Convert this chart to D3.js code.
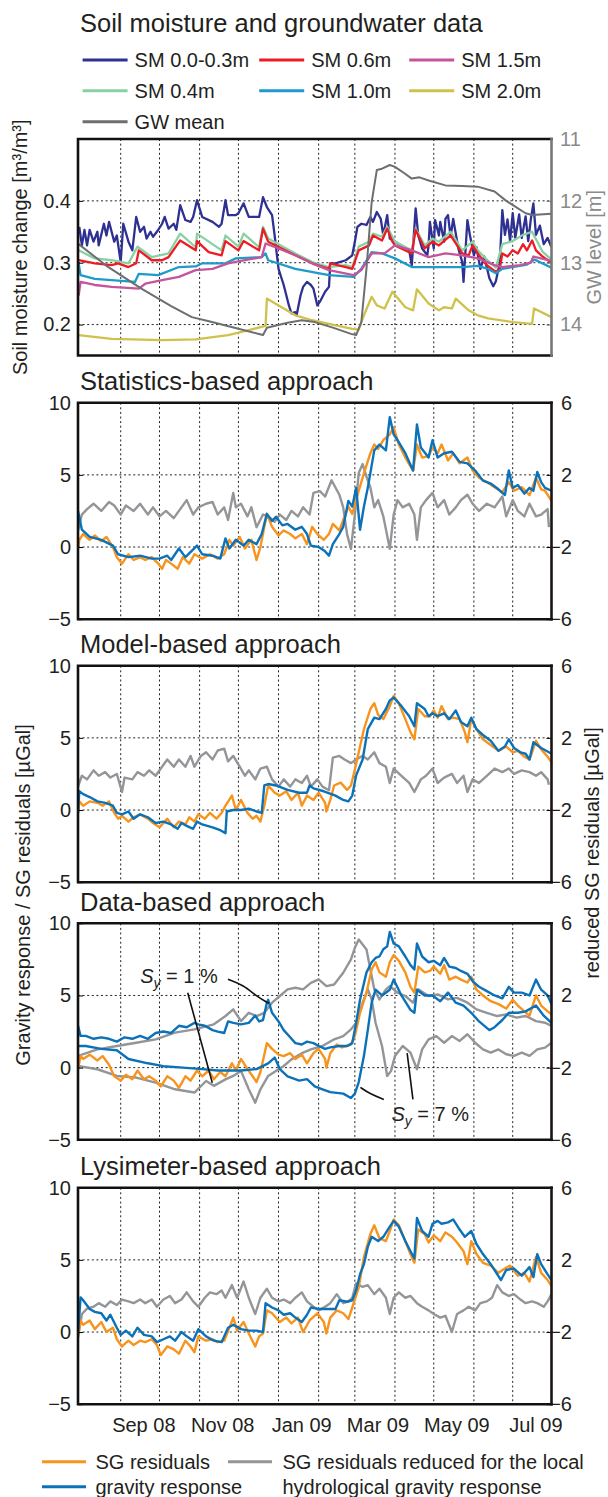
<!DOCTYPE html>
<html>
<head>
<meta charset="utf-8">
<script src="https://cdn.jsdelivr.net/npm/d3@7"></script>
<style>
  body { margin: 0; background: #fff; }
  svg text { font-family: "Liberation Sans", Arial, sans-serif; fill: #231f20; }
</style>
</head>
<body>
<svg id="chart" width="608" height="1497"></svg>
<script>
// ---- data: [day since 1 Aug 2008, value] ----
const sm03 = [[-1,.358],[1,.328],[3,.353],[5,.328],[7,.353],[10,.334],[13,.35],[14,.328],[18,.363],[20,.344],[22,.366],[26,.334],[28,.344],[31,.301],[33,.363],[37,.334],[40,.32],[43,.374],[46,.35],[49,.358],[51,.339],[54,.35],[56,.342],[60,.353],[63,.363],[65,.374],[68,.355],[72,.363],[74,.353],[77,.393],[81,.369],[85,.366],[87,.374],[90,.401],[94,.374],[102,.366],[107,.358],[109,.363],[112,.401],[114,.377],[120,.377],[122,.38],[126,.396],[130,.374],[138,.374],[141,.406],[144,.39],[148,.377],[150,.344],[153,.29],[157,.264],[161,.231],[163,.218],[166,.22],[167,.215],[170,.247],[172,.261],[175,.269],[178,.264],[180,.258],[183,.231],[185,.237],[189,.253],[192,.261],[193,.299],[197,.299],[205,.304],[210,.312],[212,.334],[214,.358],[217,.363],[221,.361],[224,.374],[226,.366],[229,.382],[232,.371],[234,.344],[237,.377],[239,.339],[243,.334],[248,.328],[254,.32],[256,.296],[259,.388],[261,.344],[264,.323],[268,.312],[269,.328],[270,.366],[273,.323],[274,.369],[277,.344],[278,.366],[281,.334],[282,.371],[284,.377],[286,.342],[288,.371],[292,.323],[295,.301],[296,.269],[299,.369],[301,.344],[304,.312],[306,.325],[309,.29],[312,.31],[316,.275],[319,.262],[321,.27],[324,.3],[326,.385],[328,.345],[330,.37],[332,.335],[334,.38],[336,.34],[339,.378],[341,.34],[344,.375],[346,.335],[348,.37],[350,.396],[352,.345],[355,.36],[358,.33],[361,.34],[364,.325]];
const sm04 = [[-1.5,.32],[11,.307],[24,.304],[37,.299],[44,.326],[55,.309],[68,.315],[77,.347],[89,.325],[90,.347],[109,.32],[112,.344],[122,.326],[126,.347],[138,.325],[141,.358],[145,.339],[166,.315],[179,.301],[192,.293],[205,.296],[210,.293],[215,.326],[223,.334],[226,.347],[233,.342],[237,.358],[243,.334],[256,.32],[259,.355],[266,.328],[272,.339],[277,.334],[286,.35],[295,.32],[303,.334],[307,.32],[314,.305],[321,.292],[326,.33],[334,.335],[342,.345],[349,.35],[357,.318],[364,.305]];
const sm06 = [[-1.5,.304],[11,.299],[24,.296],[29,.299],[37,.293],[43,.299],[45,.32],[55,.304],[63,.304],[68,.309],[77,.336],[89,.32],[90,.335],[99,.317],[109,.312],[112,.335],[122,.32],[126,.335],[138,.32],[141,.355],[145,.334],[166,.312],[179,.299],[192,.29],[193,.299],[205,.293],[210,.29],[215,.32],[223,.328],[226,.344],[233,.336],[237,.355],[241,.334],[243,.328],[256,.315],[259,.353],[266,.323],[272,.334],[277,.328],[286,.344],[295,.315],[300,.312],[303,.328],[307,.315],[314,.296],[321,.285],[324,.29],[326,.315],[330,.31],[334,.32],[338,.315],[342,.33],[345,.32],[349,.336],[352,.32],[357,.31],[364,.3]];
const sm10 = [[-1.5,.299],[0,.28],[11,.274],[24,.272],[42,.269],[45,.282],[60,.28],[76,.293],[89,.294],[94,.299],[112,.299],[120,.307],[140,.309],[143,.315],[145,.304],[166,.29],[192,.28],[211,.277],[217,.29],[225,.317],[233,.315],[243,.307],[256,.293],[269,.293],[295,.293],[307,.295],[315,.29],[321,.283],[326,.29],[345,.297],[351,.305],[364,.292]];
const sm15 = [[-1.5,.247],[0,.269],[11,.264],[24,.261],[45,.258],[50,.266],[63,.272],[76,.277],[89,.288],[102,.29],[114,.299],[127,.304],[140,.309],[143,.331],[153,.323],[166,.312],[179,.299],[192,.288],[211,.28],[217,.288],[225,.315],[235,.315],[243,.328],[256,.32],[269,.309],[282,.315],[295,.312],[307,.307],[320,.296],[326,.293],[340,.296],[348,.3],[350,.31],[364,.303]];
const sm20 = [[-1.5,.183],[24,.177],[63,.175],[89,.176],[114,.183],[130,.191],[143,.198],[144,.242],[153,.231],[166,.215],[179,.207],[192,.201],[210,.193],[215,.192],[219,.215],[225,.245],[229,.231],[235,.226],[241,.253],[251,.228],[257,.223],[260,.257],[269,.234],[277,.223],[281,.228],[287,.226],[290,.242],[300,.223],[307,.215],[315,.21],[334,.204],[349,.201],[350.5,.226],[364,.212]];
const gwMean = [[-1.5,12.7],[20,13.05],[47,13.42],[70,13.7],[86,13.88],[100,13.95],[119,14.05],[141,14.17],[144,14.05],[160,13.97],[171,13.93],[181,13.96],[195,14.05],[209,14.15],[213,14.17],[217,13.96],[221,13.09],[225,12.02],[229,11.5],[233,11.48],[239,11.42],[243,11.45],[250,11.55],[256,11.64],[262,11.62],[269,11.67],[282,11.75],[295,11.76],[307,11.77],[320,11.85],[329,12.0],[344,12.2],[349,12.23],[364,12.21]];

const statOrange = [[-2,-0.1],[-1,0.5],[2,0.9],[7,0.5],[11,0.8],[16,0.4],[20,0.7],[25,0],[28,-0.7],[32,-1.15],[37,-0.5],[41,-0.9],[46,-0.7],[50,-0.9],[55,-0.7],[60,-1.15],[63,-1.5],[66,-0.9],[70,-1.15],[75,-1.5],[79,-0.7],[84,-1.15],[88,-0.5],[94,-0.8],[100,-0.5],[106,-0.8],[111,-0.5],[115,0.5],[118,0.1],[123,0.7],[127,-0.1],[132,0.5],[136,-0.9],[139,0],[144,2.3],[148,1.4],[153,0.8],[157,1.15],[162,0.9],[166,0.6],[171,0.9],[175,0.2],[179,1.4],[183,0.9],[188,0.5],[192,0.9],[195,1.6],[200,1.15],[204,2.1],[207,2.8],[210,2.3],[215,3.9],[219,5.1],[224,6.5],[227,7.1],[230,6.8],[234,7.4],[239,7.8],[242,8.3],[246,7.1],[251,6.2],[257,5.3],[260,7.1],[264,6.2],[269,6.3],[272,6.9],[276,6.5],[279,7.1],[284,6.0],[288,6.5],[293,5.8],[299,6.2],[303,5.3],[308,4.8],[314,4.5],[320,4.15],[326,3.8],[331,4.5],[335,3.9],[341,4.15],[347,3.6],[352,4.8],[356,4.0],[359,3.9],[364,3.2]];
const statBlue = [[-2,2.5],[1,1.2],[7,0.7],[16,0.5],[25,0.1],[29,-0.5],[37,-0.7],[46,-0.6],[55,-0.8],[61,-0.8],[67,-0.6],[70,-0.9],[76,-0.1],[81,-0.7],[90,0.1],[94,-0.5],[102,-0.6],[108,-0.8],[112,0.6],[115,-0.1],[120,0.5],[126,0.1],[130,0.5],[136,0.2],[140,0.9],[144,2.3],[148,1.8],[151,2.1],[156,1.5],[160,1.6],[166,1.2],[171,1.4],[175,0.9],[178,0.1],[184,0],[189,-0.3],[192,-0.6],[195,0.2],[200,0.9],[203,1.4],[207,3.2],[210,2.8],[213,4.1],[216,1.2],[219,2.8],[222,4.1],[227,6.7],[231,7.1],[236,6.7],[239,9.0],[242,7.8],[245,7.4],[251,6.5],[257,5.3],[260,8.5],[263,6.9],[269,6.2],[272,7.4],[276,6.2],[281,6.5],[287,6.6],[293,5.9],[299,5.8],[305,5.3],[311,4.6],[317,4.4],[323,4.0],[328,3.6],[331,5.3],[334,4.1],[338,4.3],[343,3.7],[347,4.1],[350,3.9],[353,5.2],[356,4.5],[359,4.1],[364,3.9]];
const statGray = [[-2,-1.1],[1,-0.2],[5,0.1],[10,0.4],[16,0],[22,0.5],[26,0.3],[31,-0.2],[35,0.3],[41,0],[46,0.4],[52,-0.2],[56,0.2],[61,-0.3],[66,0],[72,-0.4],[78,0.2],[82,0.6],[87,-0.2],[91,0.2],[97,0.4],[102,0.5],[106,-0.2],[111,0.2],[114,-0.5],[118,1.0],[120,0.2],[124,0.4],[129,-0.3],[132,0.2],[136,-0.9],[141,-0.2],[145,-0.3],[150,-0.6],[154,-0.2],[159,-0.5],[163,0],[168,-0.3],[172,0.2],[177,-0.2],[180,1.0],[185,1.1],[189,0.8],[194,1.7],[197,1.3],[200,0.9],[203,0.2],[206,-1.3],[209,-2.1],[212,-0.2],[215,2.1],[218,2.6],[221,1.9],[224,1.3],[227,0.2],[230,0.6],[234,-0.3],[239,-2.1],[242,-0.2],[245,0.6],[249,0.2],[254,0.4],[258,-0.2],[260,-1.6],[263,0.2],[267,0.6],[272,1.0],[276,0.2],[281,0.6],[285,-0.2],[290,0.2],[294,0.6],[299,0.9],[303,0.4],[308,0],[314,0.4],[320,0.2],[326,0.8],[329,-0.3],[334,0.6],[338,0],[343,-0.3],[347,0.4],[352,-0.3],[356,-0.2],[361,0.1],[362,-0.9]];

const modelOrange = [[-2,-0.2],[-1,0.6],[2,0.3],[7,0.6],[13,0.5],[17,0.3],[22,0.6],[26,-0.2],[29,-0.6],[32,-0.4],[37,-0.8],[41,-0.5],[46,-0.3],[52,-0.6],[56,-0.9],[61,-1.2],[64,-0.9],[67,-0.6],[72,-1.2],[76,-0.8],[81,-1.0],[84,-0.5],[88,-0.8],[91,-0.3],[96,-0.6],[100,-0.2],[105,-0.6],[109,-0.2],[112,0.3],[117,1.0],[120,0],[124,0.7],[129,-0.2],[133,-0.6],[136,-0.4],[139,-0.8],[142,0.3],[145,1.7],[150,1.2],[154,1.0],[159,1.3],[163,0.7],[168,1.2],[171,0.3],[175,1.0],[180,0.7],[184,1.2],[189,0.5],[190,-0.1],[193,0.7],[196,1.7],[201,1.9],[206,1.4],[209,1.7],[212,2.8],[216,4.4],[219,5.6],[224,7.0],[227,7.4],[230,6.6],[234,6.3],[239,7.2],[242,7.9],[246,7.4],[251,6.3],[255,5.4],[258,4.9],[261,7.0],[266,6.5],[270,6.5],[273,6.9],[276,6.4],[279,7.2],[284,6.3],[288,6.4],[293,6.3],[297,5.4],[299,4.7],[302,6.3],[306,5.6],[311,4.9],[317,4.5],[323,4.1],[329,4.4],[334,4.0],[338,4.1],[343,3.7],[347,3.5],[352,4.8],[356,4.2],[361,3.7],[364,3.3]];
const modelBlue = [[-2,-0.2],[-1,1.3],[2,1.1],[7,0.9],[13,0.6],[19,0.5],[25,0.3],[28,-0.2],[32,-0.3],[37,-0.1],[41,-0.6],[46,-0.3],[52,-0.5],[58,-0.9],[64,-0.8],[70,-1.0],[75,-1.3],[78,-0.9],[82,-1.1],[87,-1.3],[90,-0.8],[94,-1.0],[102,-1.2],[108,-1.4],[112,-1.6],[113,-0.1],[118,0],[124,0],[130,0.1],[136,-0.1],[140,-0.2],[142,1.7],[145,1.8],[151,1.7],[160,1.4],[169,1.2],[175,1.2],[177,1.7],[180,1.5],[188,1.3],[197,1.0],[203,0.7],[207,0.6],[210,1.0],[213,2.4],[218,3.5],[222,5.6],[227,6.4],[231,6.3],[236,7.0],[239,7.6],[242,7.8],[248,7.2],[254,6.5],[258,5.8],[260,7.4],[266,7.0],[269,6.5],[272,6.7],[276,6.5],[281,6.7],[285,6.3],[290,6.9],[294,6.1],[299,5.8],[302,6.4],[306,5.6],[311,5.2],[317,4.8],[323,4.1],[328,4.4],[331,4.9],[335,4.3],[340,4.0],[344,3.9],[347,3.5],[350,4.7],[356,4.3],[362,4.0],[364,3.9]];
const modelGray = [[-2,-0.7],[1,-0.1],[5,-0.3],[10,0.2],[14,-0.1],[19,0.1],[23,-0.2],[28,0],[32,-1.0],[34,-0.2],[40,-0.3],[44,0.1],[49,-0.1],[53,0.2],[58,-0.1],[62,0.3],[67,0.8],[72,0.4],[76,0.8],[81,0.4],[85,1.0],[88,0.4],[93,1.0],[97,1.2],[102,0.8],[106,1.3],[111,1.4],[114,0.7],[118,1.0],[123,0.4],[127,-0.1],[130,0.2],[135,-0.3],[139,0.3],[144,0.4],[148,-0.3],[153,-0.7],[157,-0.3],[162,-0.7],[166,-0.3],[171,-0.5],[175,-0.1],[178,-0.7],[183,-0.3],[187,-0.7],[192,-0.9],[195,0.9],[200,1.0],[204,0.8],[209,0.6],[213,0.8],[218,1.0],[222,0.8],[227,1.2],[231,0.6],[236,0.4],[239,-0.5],[242,0.3],[248,-0.1],[254,-0.5],[258,-1.0],[263,-0.3],[267,-0.1],[272,0.3],[276,-0.5],[281,-0.2],[287,0],[291,-0.5],[296,-0.1],[299,-1.0],[303,-0.3],[308,-0.5],[314,-0.1],[320,0.3],[326,0.1],[331,0.3],[335,0],[341,0.2],[347,0.1],[352,-0.1],[356,0.1],[361,-0.3],[362,-0.6]];

const dataOrange = [[-2,-0.1],[0,0.8],[2,0.6],[7,0.9],[13,0.5],[17,0.8],[22,0.2],[26,-0.6],[31,-0.9],[35,-0.5],[40,-0.8],[44,-0.2],[49,-0.8],[53,-0.6],[58,-0.9],[62,-1.3],[67,-0.6],[72,-0.9],[76,-1.4],[81,-0.6],[85,-0.9],[90,-0.2],[94,-0.6],[99,-0.2],[103,-0.8],[108,-0.3],[112,-0.6],[117,0.3],[120,-0.2],[124,0.6],[129,-0.1],[133,-0.6],[136,-1.0],[139,-0.3],[144,1.7],[148,1.3],[153,0.9],[157,0.8],[162,1.0],[166,0.6],[171,0.9],[175,0.3],[180,1.0],[184,1.3],[189,0.6],[190,0],[193,1.0],[198,1.6],[202,1.4],[209,1.6],[212,2.2],[216,3.8],[221,5.2],[225,6.8],[228,7.3],[231,6.6],[236,6.3],[239,7.3],[242,7.8],[246,7.4],[251,6.6],[255,5.6],[258,5.2],[261,7.0],[266,6.6],[270,6.7],[273,7.0],[278,6.5],[281,7.1],[285,6.1],[290,6.3],[294,6.1],[299,5.9],[302,6.3],[306,5.4],[311,5.0],[317,4.6],[323,4.4],[329,4.1],[334,4.7],[338,4.3],[343,3.9],[347,3.6],[352,5.0],[356,4.3],[361,3.9],[364,3.7]];
const dataBlue1 = [[-2,2.9],[0,2.2],[4,2.2],[10,2.0],[16,2.1],[22,2.0],[28,1.8],[34,2.1],[40,2.0],[46,2.2],[52,2.0],[58,2.4],[64,2.5],[70,2.4],[76,2.9],[82,2.8],[88,3.1],[91,3.0],[96,2.9],[102,2.6],[106,2.5],[111,2.4],[114,3.2],[118,3.1],[124,3.0],[130,3.1],[135,3.6],[138,3.2],[141,3.3],[144,4.5],[145,4.7],[148,3.8],[153,3.2],[157,2.6],[162,2.1],[166,1.7],[171,1.6],[175,1.8],[180,1.7],[184,1.5],[189,1.3],[193,1.4],[200,1.5],[206,1.5],[210,1.7],[213,3.1],[216,4.7],[221,6.6],[225,7.3],[228,7.6],[231,7.7],[234,8.2],[237,8.4],[239,9.4],[242,8.6],[246,8.4],[251,7.7],[255,7.1],[258,6.8],[260,8.6],[264,7.7],[269,7.3],[273,7.4],[278,7.1],[281,7.6],[285,7.0],[290,6.9],[294,6.7],[299,6.5],[303,6.0],[308,5.6],[314,5.3],[320,5.0],[326,4.8],[331,5.6],[335,5.2],[341,5.2],[347,5.0],[352,6.1],[356,5.4],[361,5.0],[364,4.4]];
const dataBlue7 = [[-2,1.5],[4,1.5],[16,1.3],[28,1.2],[37,0.6],[52,0.3],[64,0.1],[79,0],[94,-0.1],[106,-0.2],[124,-0.2],[136,-0.1],[145,0.3],[150,0.7],[154,-0.1],[160,-0.6],[169,-0.9],[175,-0.8],[181,-1.3],[187,-1.5],[193,-1.7],[203,-1.8],[209,-2.1],[212,-1.8],[215,-1.0],[219,0.8],[222,2.6],[225,4.5],[228,5.4],[233,5.0],[239,5.4],[242,6.1],[248,5.0],[255,4.0],[258,3.8],[260,5.4],[266,5.0],[272,5.0],[278,4.6],[284,5.2],[290,4.5],[296,4.3],[302,3.8],[308,3.2],[316,2.6],[320,2.8],[326,3.3],[331,3.8],[338,3.8],[344,3.9],[352,4.3],[358,3.6],[364,3.1]];
const dataGray7 = [[-2,-1.35],[13,-0.99],[28,-0.8],[43,-0.62],[58,-0.43],[73,-0.06],[88,0.12],[103,0.4],[112,0.86],[118,1.23],[124,0.58],[130,1.04],[136,0.86],[142,1.04],[148,1.6],[154,1.97],[160,2.34],[166,2.43],[172,2.34],[178,2.7],[184,2.89],[190,2.52],[196,2.61],[203,3.26],[209,4.0],[212,4.64],[215,5.1],[218,4.83],[221,4.55],[224,3.44],[227,2.34],[231,1.78],[236,2.34],[239,2.52],[245,2.15],[251,1.97],[257,1.6],[261,2.34],[269,1.97],[276,2.06],[284,1.78],[291,1.87],[299,1.6],[306,1.23],[314,1.04],[322,0.86],[329,0.95],[337,0.77],[344,0.86],[352,0.58],[359,0.49],[364,0.31]];
const dataGray1 = [[-2,-1.91],[13,-2.09],[28,-2.46],[43,-2.55],[58,-2.83],[73,-3.2],[88,-3.38],[97,-2.74],[103,-3.01],[112,-2.65],[118,-2.46],[124,-2.18],[130,-3.2],[135,-3.94],[139,-3.2],[145,-2.46],[151,-2.18],[157,-1.91],[163,-1.54],[172,-1.17],[178,-0.99],[187,-0.8],[196,-0.43],[203,-0.25],[209,0.12],[213,0.49],[218,1.6],[222,2.34],[225,1.78],[228,0.49],[233,-0.8],[237,-2.46],[240,-2.18],[243,-1.35],[249,-0.8],[255,-1.17],[260,-2.09],[264,-0.99],[269,-0.43],[275,-0.25],[281,-0.62],[287,-0.25],[293,-0.52],[299,-0.15],[305,-0.62],[311,-0.99],[317,-1.17],[323,-0.99],[329,-1.26],[335,-1.35],[341,-1.17],[347,-1.35],[353,-0.99],[359,-0.89],[364,-0.62]];

const lysOrange = [[-2,-0.3],[0,0.8],[2,0.5],[7,0.8],[11,0.2],[16,0.7],[20,0],[25,0.3],[28,-0.5],[32,-1.0],[37,-0.6],[41,-0.9],[46,-0.6],[50,-0.7],[55,-0.5],[59,-0.9],[62,-1.6],[67,-1.0],[72,-1.2],[76,-1.5],[81,-0.6],[85,-1.0],[88,-1.4],[91,-0.3],[97,-0.6],[102,-0.5],[106,-0.7],[111,-0.6],[115,0.3],[118,1.0],[121,0.1],[126,0.7],[130,-0.1],[135,-1.0],[138,-0.3],[141,-0.1],[144,1.5],[148,1.3],[154,0.7],[159,1.0],[163,0.6],[168,1.0],[172,0],[177,0.8],[183,1.3],[188,0.7],[190,-0.1],[193,1.0],[198,1.5],[203,1.3],[207,0.9],[210,1.7],[215,3.1],[219,5.2],[224,6.8],[227,7.4],[231,6.5],[236,6.3],[239,7.0],[242,7.8],[246,7.4],[251,6.3],[255,5.4],[258,4.8],[261,7.1],[266,6.8],[269,6.2],[273,6.7],[278,6.3],[282,6.9],[287,6.6],[291,6.2],[296,5.6],[299,4.7],[302,6.3],[306,5.4],[311,4.8],[317,4.6],[323,4.1],[328,4.4],[332,4.6],[338,3.9],[343,4.1],[347,3.5],[352,5.2],[356,4.1],[361,3.6],[364,3.2]];
const lysBlue = [[-2,-0.1],[0,2.4],[2,2.2],[7,1.6],[11,1.4],[16,1.3],[20,0.8],[23,1.2],[28,0.3],[31,-0.2],[35,0.1],[40,-0.3],[44,0.3],[49,-0.2],[55,-0.3],[59,-0.7],[64,-0.5],[69,-0.3],[73,-0.6],[78,0],[82,-0.3],[87,-0.6],[91,0.2],[97,-0.3],[103,-0.6],[109,-0.7],[114,0.3],[118,0.5],[124,0.2],[130,0.1],[136,0.1],[141,0],[143,2.0],[148,1.7],[153,1.5],[157,1.2],[162,1.3],[166,1.0],[171,0.7],[175,1.2],[178,1.7],[184,1.6],[190,1.6],[197,1.6],[200,2.2],[206,2.1],[210,2.2],[213,2.9],[216,4.0],[219,4.7],[222,5.9],[225,6.6],[230,6.3],[234,6.6],[239,7.3],[242,7.7],[246,7.3],[251,6.3],[255,5.6],[258,5.1],[260,7.9],[264,7.0],[269,6.6],[272,7.5],[276,7.7],[279,7.5],[284,7.6],[288,7.8],[293,7.1],[297,6.6],[302,7.0],[306,6.1],[311,5.4],[317,4.7],[325,3.6],[329,4.3],[335,4.4],[341,3.9],[347,4.5],[350,3.8],[353,5.4],[356,4.7],[361,4.0],[364,3.6]];
const lysGray = [[-2,-2.3],[1,-1.0],[5,-0.7],[10,-0.6],[14,-0.4],[19,-0.6],[23,-0.3],[28,-0.5],[32,-0.2],[37,-0.3],[41,-0.4],[46,-0.2],[50,-0.4],[55,-0.2],[59,-0.6],[64,-0.2],[69,0],[73,-0.4],[78,-0.2],[82,0.2],[87,-0.3],[91,-0.6],[96,-0.1],[100,0.2],[105,0.1],[109,0.3],[112,-0.1],[117,0.6],[121,-0.1],[126,0.8],[130,-0.1],[135,-1.0],[139,-0.1],[144,0.4],[148,-0.1],[153,-0.3],[157,-0.2],[162,-0.4],[166,-0.1],[171,0.2],[175,-0.3],[180,-0.6],[184,-0.8],[189,-0.6],[193,-0.4],[198,0.1],[203,-0.4],[207,-0.3],[210,-0.1],[213,0.7],[218,0.5],[222,0.6],[227,0.1],[231,0.4],[236,-0.1],[239,-1.0],[242,-0.1],[246,0.2],[251,-0.1],[255,0],[260,-0.4],[264,-0.6],[269,-0.8],[273,-1.0],[278,-1.2],[282,-1.1],[287,-2.0],[291,-1.0],[296,-0.8],[300,-0.6],[305,-0.8],[309,-0.4],[314,-0.3],[318,-0.1],[322,0.6],[326,0.2],[331,0],[335,0.1],[340,-0.2],[344,-0.4],[349,-0.3],[353,-0.4],[358,-0.6],[361,-0.3],[364,0.1]];

// axis ticks and labels
const xTickLabels = ["Sep 08", "Nov 08", "Jan 09", "Mar 09", "May 09", "Jul 09"];
const xTickMonths = [[2008, 8], [2008, 10], [2009, 0], [2009, 2], [2009, 4], [2009, 6]];
const smTicks = [0.2, 0.3, 0.4];
const gwTicks = [11, 12, 13, 14];
const gLeftTicks = [-5, 0, 5, 10];
const gRightTicks = [-6, -2, 2, 6];
const panelTitles = ["Statistics-based approach", "Model-based approach", "Data-based approach", "Lysimeter-based approach"];

// ---- layout ----
const svg = d3.select("#chart");
const left = 78, right = 551.5, ph = 216.5;
const tops = [139, 402.7, 665.7, 923.3, 1187.7];
const start = Date.UTC(2008, 7, 1);
const toDate = d => new Date(start + d * 864e5);

const x = d3.scaleUtc()
  .domain([new Date(Date.UTC(2008, 6, 30)), new Date(Date.UTC(2009, 6, 31))])
  .range([left, right]);
const gridMonths = d3.utcMonth.range(new Date(Date.UTC(2008, 8, 1)), new Date(Date.UTC(2009, 6, 2)));

const col = {
  sm03: "#2e3192", sm04: "#88d1a3", sm06: "#ed1c24", sm10: "#1f9bcb",
  sm15: "#c4559a", sm20: "#cfc24c", gw: "#6d6e71",
  orange: "#f7941d", blue: "#0b72b9", gray: "#939598"
};

// Draw grid and clip for one panel
function makePanel(i, yL, hTicks) {
  const top = tops[i], bot = top + ph;
  const g = svg.append("g");
  svg.append("clipPath").attr("id", "clip" + i)
    .append("rect").attr("x", left).attr("y", top).attr("width", right - left).attr("height", ph);

  g.selectAll(".vg").data(gridMonths).enter().append("line")
    .attr("x1", d => x(d)).attr("x2", d => x(d))
    .attr("y1", top).attr("y2", bot)
    .attr("stroke", "#222").attr("stroke-width", 1).attr("stroke-dasharray", "2,2.6");
  g.selectAll(".hg").data(hTicks).enter().append("line")
    .attr("x1", left).attr("x2", right)
    .attr("y1", d => yL(d)).attr("y2", d => yL(d))
    .attr("stroke", "#222").attr("stroke-width", 1).attr("stroke-dasharray", "2,2.6");
  return g;
}

function frame(i, rightColor) {
  const top = tops[i], bot = top + ph;
  const f = svg.append("g").attr("fill", "none").attr("stroke-width", 2.6).attr("stroke-linecap", "square");
  f.append("path").attr("d", `M${right},${top}H${left}V${bot}H${right}`).attr("stroke", "#111");
  f.append("path").attr("d", `M${right},${top}V${bot}`).attr("stroke", rightColor);
}

function drawLine(g, i, data, y, color, w) {
  const line = d3.line().x(p => x(toDate(p[0]))).y(p => y(p[1]));
  g.append("path").datum(data)
    .attr("clip-path", `url(#clip${i})`)
    .attr("d", line).attr("fill", "none")
    .attr("stroke", color).attr("stroke-width", w)
    .attr("stroke-linejoin", "round");
}

// ---- panel 1: soil moisture ----
{
  const top = tops[0], bot = top + ph;
  const ySM = d3.scaleLinear().domain([0.15, 0.5]).range([bot, top]);
  const yGW = d3.scaleLinear().domain([14.5, 11]).range([bot, top]);
  const g = makePanel(0, ySM, smTicks);
  drawLine(g, 0, sm03, ySM, col.sm03, 2.3);
  drawLine(g, 0, sm04, ySM, col.sm04, 2.3);
  drawLine(g, 0, sm06, ySM, col.sm06, 2.3);
  drawLine(g, 0, sm10, ySM, col.sm10, 2.3);
  drawLine(g, 0, sm15, ySM, col.sm15, 2.3);
  drawLine(g, 0, sm20, ySM, col.sm20, 2.3);
  drawLine(g, 0, gwMean, yGW, col.gw, 2);

  const la = svg.append("g").attr("transform", `translate(${left},0)`)
    .call(d3.axisLeft(ySM).tickValues(smTicks).tickFormat(d3.format(".1f")).tickSizeInner(-5).tickSizeOuter(0).tickPadding(7));
  la.select(".domain").remove();
  la.selectAll("text").style("font-size", "20px");
  const ra = svg.append("g").attr("transform", `translate(${right},0)`)
    .call(d3.axisRight(yGW).tickValues(gwTicks).tickFormat(d3.format("d")).tickSizeInner(-5).tickSizeOuter(0).tickPadding(8.5));
  ra.select(".domain").remove();
  ra.selectAll("line").attr("stroke", "#777");
  ra.selectAll("text").style("font-size", "20px").style("fill", "#8a8a8a");
  frame(0, "#777");

  svg.append("text").attr("x", 80).attr("y", 31.7).style("font-size", "25.5px")
    .text("Soil moisture and groundwater data");

  // legend
  const legItems = [
    ["SM 0.0-0.3m", col.sm03, 0, 0], ["SM 0.6m", col.sm06, 1, 0], ["SM 1.5m", col.sm15, 2, 0],
    ["SM 0.4m", col.sm04, 0, 1], ["SM 1.0m", col.sm10, 1, 1], ["SM 2.0m", col.sm20, 2, 1],
    ["GW mean", col.gw, 0, 2]
  ];
  const colX = [82.6, 259.2, 409.2], rowY = [60, 90.7, 121.7];
  const lg = svg.append("g");
  legItems.forEach(([label, c, ci, ri]) => {
    lg.append("line").attr("x1", colX[ci]).attr("x2", colX[ci] + 45)
      .attr("y1", rowY[ri]).attr("y2", rowY[ri]).attr("stroke", c).attr("stroke-width", 3);
    lg.append("text").attr("x", colX[ci] + 52).attr("y", rowY[ri] + 7).style("font-size", "20px").text(label);
  });

  svg.append("text").attr("transform", `translate(27,${(top + bot) / 2}) rotate(-90)`)
    .attr("text-anchor", "middle").style("font-size", "20px").text("Soil moisture change [m³/m³]");
  svg.append("text").attr("transform", `translate(601,${(top + bot) / 2}) rotate(-90)`)
    .attr("text-anchor", "middle").style("font-size", "20px").style("fill", "#8a8a8a").text("GW level [m]");
}

// ---- gravity panels ----
const gravSeries = [
  { gray: [statGray], orange: statOrange, blue: [statBlue] },
  { gray: [modelGray], orange: modelOrange, blue: [modelBlue] },
  { gray: [dataGray7, dataGray1], orange: dataOrange, blue: [dataBlue1, dataBlue7] },
  { gray: [lysGray], orange: lysOrange, blue: [lysBlue] }
];

gravSeries.forEach((s, k) => {
  const i = k + 1;
  const top = tops[i], bot = top + ph;
  const yL = d3.scaleLinear().domain([-5, 10]).range([bot, top]);
  const yR = d3.scaleLinear().domain([-6, 6]).range([bot, top]);
  const g = makePanel(i, yL, [0, 5]);
  s.gray.forEach(d => drawLine(g, i, d, yR, col.gray, 2.4));
  drawLine(g, i, s.orange, yL, col.orange, 2.4);
  s.blue.forEach(d => drawLine(g, i, d, yL, col.blue, 2.4));

  const la = svg.append("g").attr("transform", `translate(${left},0)`)
    .call(d3.axisLeft(yL).tickValues(gLeftTicks).tickSizeInner(-5).tickSizeOuter(0).tickPadding(7));
  la.select(".domain").remove();
  la.selectAll("text").style("font-size", "20px");
  const ra = svg.append("g").attr("transform", `translate(${right},0)`)
    .call(d3.axisRight(yR).tickValues(gRightTicks).tickSizeInner(-5).tickSizeOuter(0));
  ra.select(".domain").remove();
  ra.selectAll("text").style("font-size", "20px").attr("text-anchor", "end").attr("x", 20.5);
  frame(i, "#1a1414");

  svg.append("text").attr("x", 80).attr("y", top - 12.6).style("font-size", "25.5px").text(panelTitles[k]);

  if (k === 2) {
    // annotations S_y
    const ann = svg.append("g").attr("fill", "none").attr("stroke", "#111").attr("stroke-width", 1.6);
    const pl = d3.line().curve(d3.curveBasis).x(p => x(toDate(p[0]))).y(p => yL(p[1]));
    ann.append("path").attr("d", pl([[113.9, 6.12], [125.9, 5.72], [136.4, 4.91], [145.5, 4.46]]));
    ann.append("path").attr("d", pl([[82.8, 5.19], [101.8, -1.05]]));
    ann.append("path").attr("d", pl([[216.3, -1.37], [223.8, -1.83], [234.4, -2.2]]));
    ann.append("path").attr("d", pl([[252.4, 1.0], [256.9, -2.2]]));
    [[46.1, 5.85, "1"], [240.3, -3.7, "7"]].forEach(([d, v, n]) => {
      const t = svg.append("text").attr("x", x(toDate(d))).attr("y", yL(v)).style("font-size", "20px");
      t.append("tspan").style("font-style", "italic").text("S");
      t.append("tspan").style("font-style", "italic").style("font-size", "14px").attr("dy", 5).text("y");
      t.append("tspan").attr("dy", -5).text(` = ${n} %`);
    });
  }
});

// x axis labels under last panel
{
  const bot = tops[4] + ph;
  const labelDates = xTickMonths.map(([yy, mm]) => new Date(Date.UTC(yy, mm, 18, 12)));
  const xa = svg.append("g").attr("transform", `translate(0,${bot})`)
    .call(d3.axisBottom(x).tickValues(labelDates).tickFormat((d, i) => xTickLabels[i]).tickSize(0));
  xa.select(".domain").remove();
  xa.selectAll("text").style("font-size", "20px").attr("y", 27.5).attr("dy", 0);
}

// shared y labels
svg.append("text").attr("transform", "translate(30,895) rotate(-90)")
  .attr("text-anchor", "middle").style("font-size", "20px").text("Gravity response / SG residuals [µGal]");
svg.append("text").attr("transform", "translate(599,853) rotate(-90)")
  .attr("text-anchor", "middle").style("font-size", "20px").text("reduced SG residuals [µGal]");

// bottom legend
{
  const lg = svg.append("g");
  const rows = [1461.7, 1486.7];
  lg.append("line").attr("x1", 42).attr("x2", 86).attr("y1", rows[0]).attr("y2", rows[0]).attr("stroke", col.orange).attr("stroke-width", 3);
  lg.append("text").attr("x", 95.5).attr("y", rows[0] + 7).style("font-size", "20px").text("SG residuals");
  lg.append("line").attr("x1", 42).attr("x2", 86).attr("y1", rows[1]).attr("y2", rows[1]).attr("stroke", col.blue).attr("stroke-width", 3);
  lg.append("text").attr("x", 95.5).attr("y", rows[1] + 7).style("font-size", "20px").text("gravity response");
  lg.append("line").attr("x1", 228).attr("x2", 272).attr("y1", rows[0]).attr("y2", rows[0]).attr("stroke", col.gray).attr("stroke-width", 3);
  lg.append("text").attr("x", 282.5).attr("y", rows[0] + 7).style("font-size", "20px").text("SG residuals reduced for the local");
  lg.append("text").attr("x", 282.5).attr("y", rows[1] + 7).style("font-size", "20px").text("hydrological gravity response");
}
</script>
</body>
</html>
